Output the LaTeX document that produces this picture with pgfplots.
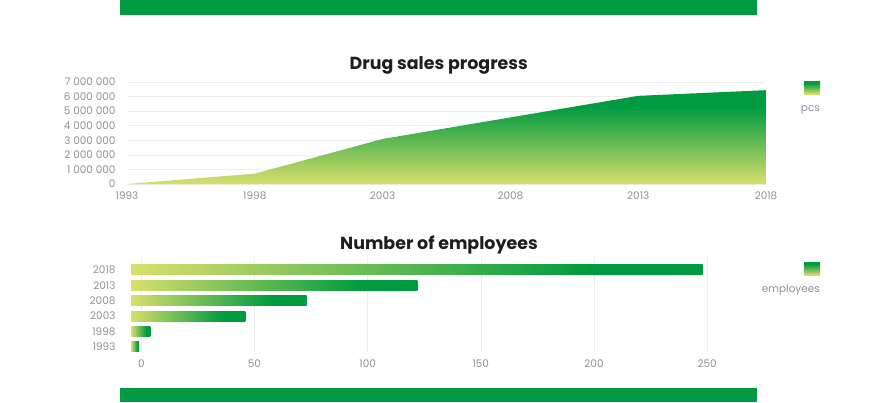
\documentclass[border=0pt]{standalone}
\usepackage{pgfplots}
\pgfplotsset{compat=1.18}
\usepackage{pgfplotstable}
\usepackage{fontspec}
\setmainfont{Poppins}
\definecolor{grn}{RGB}{0,155,65}
\definecolor{yel}{RGB}{217,223,107}
\definecolor{txt}{RGB}{145,145,145}
\definecolor{ttl}{RGB}{30,30,30}
\pgfdeclareverticalshading{areashade}{100bp}{color(0bp)=(yel); color(25bp)=(yel); color(66bp)=(grn); color(100bp)=(grn)}
\pgfdeclarehorizontalshading{barshade}{100bp}{color(0bp)=(yel); color(25bp)=(yel); color(65bp)=(grn); color(100bp)=(grn)}
\pgfplotstableread{
year sales
1993 0
1998 710000
2003 3090000
2008 4570000
2013 6050000
2018 6440000
}\sales
\newcommand{\tfont}{\fontsize{10.5}{12}\selectfont}
\begin{document}
\begin{tikzpicture}[x=1bp,y=1bp]
\path (0,0) rectangle (874,402);
\fill[grn] (120,387) rectangle (757,402);
\fill[grn] (120,0) rectangle (757,14);
\begin{axis}[at={(127bp,218bp)}, anchor=south west, scale only axis,
  width=639bp, height=102bp,
  xmin=1993, xmax=2018, ymin=0, ymax=7000000,
  axis line style={draw=none}, tick style={draw=none},
  ymajorgrids, grid style={draw=black!7, line width=0.6bp},
  xtick={1993,1998,2003,2008,2013,2018},
  xticklabels={1993,1998,2003,2008,2013,2018},
  ytick={0,1000000,2000000,3000000,4000000,5000000,6000000,7000000},
  yticklabels={0,1 000 000,2 000 000,3 000 000,4 000 000,5 000 000,6 000 000,7 000 000},
  scaled y ticks=false, scaled x ticks=false,
  /pgf/number format/assume math mode=true,
  tick label style={font=\tfont, text=txt},
  yticklabel style={xshift=-8bp},
  xticklabel style={yshift=-4bp},
  title={Drug sales progress},
  title style={font=\bfseries\fontsize{17.5}{20}\selectfont, text=ttl,
    at={(axis description cs:0.488,1)}, anchor=base, yshift=7bp},
]
\addplot[draw=none, shade, shading=areashade] table[x=year, y=sales] {\sales} \closedcycle;
\end{axis}
\fill[shading=areashade] (804,308) rectangle (820,321);
\node[anchor=east, inner sep=0pt, text=txt, font=\tfont] at (820,292) {pcs};
\begin{axis}[at={(131bp,50bp)}, anchor=south west, scale only axis,
  width=635bp, height=95bp,
  xmin=-4.55, xmax=276, ymin=-0.33, ymax=5.84,
  axis line style={draw=none}, tick style={draw=none},
  xmajorgrids, grid style={draw=black!7, line width=0.6bp},
  xtick={0,50,100,150,200,250},
  ytick={0,1,2,3,4,5},
  yticklabels={1993,1998,2003,2008,2013,2018},
  /pgf/number format/assume math mode=true,
  tick label style={font=\tfont, text=txt},
  yticklabel style={xshift=-12bp},
  xticklabel style={yshift=-4bp},
  title={Number of employees},
  title style={font=\bfseries\fontsize{17.5}{20}\selectfont, text=ttl,
    at={(axis description cs:0.485,1)}, anchor=base, yshift=2bp},
]
% one bar per year: from the axis start (-4.55) to the number of employees
\addplot[draw=none, shade, shading=barshade] coordinates {(-4.55,-0.325) (-1,-0.325) (-1,0.325) (-4.55,0.325)};
\addplot[draw=none, shade, shading=barshade] coordinates {(-4.55,0.675) (4,0.675) (4,1.325) (-4.55,1.325)};
\addplot[draw=none, shade, shading=barshade] coordinates {(-4.55,1.675) (46,1.675) (46,2.325) (-4.55,2.325)};
\addplot[draw=none, shade, shading=barshade] coordinates {(-4.55,2.675) (73,2.675) (73,3.325) (-4.55,3.325)};
\addplot[draw=none, shade, shading=barshade] coordinates {(-4.55,3.675) (122,3.675) (122,4.325) (-4.55,4.325)};
\addplot[draw=none, shade, shading=barshade] coordinates {(-4.55,4.675) (248,4.675) (248,5.325) (-4.55,5.325)};
\end{axis}
\fill[shading=areashade] (804,127) rectangle (820,140);
\node[anchor=east, inner sep=0pt, text=txt, font=\tfont] at (820,112) {employees};
\end{tikzpicture}
\end{document}
